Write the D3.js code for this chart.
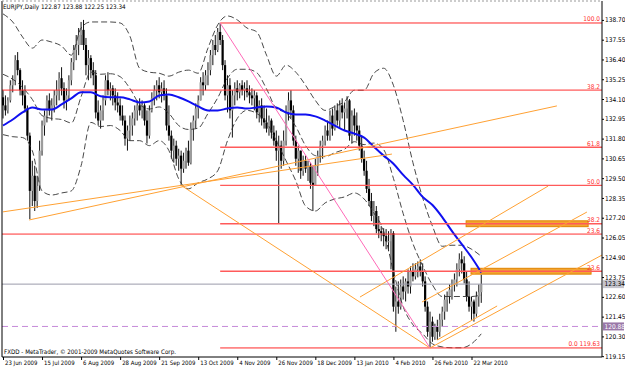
<!DOCTYPE html>
<html>
<head>
<meta charset="utf-8">
<script src="https://cdn.jsdelivr.net/npm/d3@7"></script>
<style>
body { margin: 0; background: #fff; }
text { font-family: "Liberation Sans Narrow", "Arial Narrow", "DejaVu Sans Condensed", "Liberation Sans", sans-serif; }
</style>
</head>
<body>
<div id="chart"></div>
<script>

// EURJPY daily bars, index 0 = 23 Jun 2009 (open = previous close)
var firstOpen = 134.20;
var highs = [
  134.61,134.31,134.20,135.19,135.48,136.65,136.83,135.89,135.19,134.90,
  133.73,132.15,130.51,130.22,129.64,131.68,132.85,133.44,134.31,134.43,
  134.14,134.61,135.19,135.66,135.95,135.07,134.72,135.48,136.48,137.24,
  137.82,138.23,138.58,138.70,137.65,136.95,136.65,136.24,135.78,134.02,
  133.73,134.31,135.48,135.66,135.07,134.90,134.72,134.49,134.14,133.73,
  133.14,132.56,133.14,133.32,133.73,134.02,134.14,134.02,133.85,133.44,
  133.73,134.49,134.90,135.19,135.37,135.07,135.19,134.72,133.73,132.27,
  131.80,131.68,131.21,131.10,130.98,131.27,131.68,132.74,133.14,133.85,
  134.31,135.37,135.66,135.78,136.24,136.95,137.53,137.82,138.23,138.52,
  137.82,136.36,135.48,135.31,134.61,135.07,135.19,135.02,135.19,135.07,
  135.19,134.90,134.72,134.61,134.49,134.02,134.14,133.73,133.55,133.14,
  132.97,132.56,132.27,131.97,131.68,132.27,133.73,134.49,134.61,133.73,
  131.97,131.39,131.10,130.81,130.81,130.51,130.40,130.22,130.63,131.10,
  131.68,131.97,132.56,132.85,133.44,133.55,133.73,133.85,134.02,134.14,
  133.90,134.26,134.10,133.44,133.55,133.32,132.56,131.97,131.10,130.51,
  129.46,128.64,128.17,127.88,127.30,126.71,126.59,126.54,126.42,126.54,
  126.42,123.20,123.50,123.61,123.79,123.67,124.20,124.37,124.55,124.55,
  124.66,124.78,124.55,123.79,122.33,121.74,121.45,121.04,121.27,121.62,
  122.03,122.73,122.91,123.32,123.61,123.96,124.55,125.13,125.25,124.96,
  124.08,123.50,122.62,122.44,122.91,123.32,123.88
];
var lows = [
  132.97,133.14,133.26,133.90,134.49,134.90,135.48,134.31,133.73,133.32,
  131.68,127.12,127.88,127.59,127.77,128.76,130.81,131.97,132.74,133.14,
  132.85,133.32,133.73,134.02,134.31,133.55,133.44,134.02,134.90,135.78,
  136.36,136.65,137.24,136.95,135.48,135.19,135.31,134.90,132.97,132.56,
  132.38,132.85,133.73,134.31,134.02,133.73,133.44,133.32,132.85,132.56,
  131.39,131.10,131.68,131.97,132.56,132.85,133.14,132.97,132.56,131.51,
  131.80,133.32,133.73,134.02,134.14,133.90,134.02,132.27,131.68,130.63,
  130.40,130.22,129.93,129.11,129.81,130.05,130.22,130.30,131.68,132.38,
  132.97,134.02,134.31,134.61,134.90,135.48,136.07,136.65,136.83,137.24,
  135.78,134.02,133.32,132.97,131.86,133.73,134.02,134.14,134.31,134.02,
  134.20,133.85,133.73,133.44,132.97,132.74,132.56,132.38,132.15,131.97,
  131.80,131.39,130.51,126.89,130.05,130.22,131.39,132.85,132.97,131.39,
  130.22,129.81,129.46,129.64,129.81,129.34,128.88,127.59,129.05,129.64,
  130.40,130.63,131.39,131.68,131.68,131.97,132.27,132.56,132.38,132.97,
  132.27,132.97,131.68,131.51,131.97,131.68,131.10,130.40,129.64,128.64,
  127.88,127.00,126.71,126.30,126.01,125.83,125.54,125.37,125.25,124.20,
  121.74,120.57,121.62,121.86,122.44,122.33,122.79,122.79,123.50,123.61,
  123.73,123.79,123.20,121.74,120.28,119.63,119.99,120.10,120.10,120.28,
  120.86,121.27,121.74,122.21,122.44,122.91,123.20,123.79,123.96,123.38,
  122.33,121.74,121.27,121.16,121.45,122.03,122.25
];
var closes = [
  133.73,133.44,134.02,134.90,135.19,136.36,135.78,134.61,134.31,133.55,
  131.97,128.76,129.64,128.17,129.05,131.10,132.56,133.14,134.02,133.44,
  133.73,134.31,134.61,135.31,134.72,134.02,134.31,135.19,136.24,136.95,
  137.24,137.82,138.12,137.24,136.07,136.48,135.78,135.48,133.32,132.85,
  133.44,134.02,135.19,134.61,134.72,134.31,133.90,133.73,133.14,132.85,
  131.80,132.27,132.56,132.97,133.44,133.73,133.44,133.73,132.85,131.97,
  133.44,134.14,134.61,134.90,134.49,134.72,134.31,132.56,131.97,131.10,
  131.39,130.63,130.81,130.05,130.51,131.10,130.40,132.38,132.85,133.55,
  134.02,135.07,134.90,135.48,135.78,136.65,137.24,136.95,138.00,137.53,
  136.07,134.31,134.90,133.44,134.31,134.72,134.49,134.90,134.61,134.72,
  134.49,134.31,134.14,134.31,133.32,133.73,132.97,132.74,132.38,132.85,
  132.15,131.68,131.10,131.39,130.51,131.68,133.32,134.02,133.44,131.68,
  130.63,131.10,129.93,130.51,130.05,130.22,129.23,129.05,130.22,130.81,
  131.39,131.68,132.27,131.97,133.14,132.38,133.44,132.85,133.73,133.32,
  133.55,134.02,131.97,133.14,132.56,132.27,131.39,130.63,129.93,128.88,
  128.17,127.30,127.59,126.54,126.42,126.30,126.13,125.83,125.83,126.30,
  122.03,122.33,122.03,123.20,122.91,123.50,123.20,124.08,123.79,124.20,
  124.37,124.08,123.50,122.03,120.57,121.16,120.28,120.86,120.57,121.27,
  121.74,122.44,122.62,123.03,123.32,123.61,124.20,124.78,124.55,123.61,
  122.62,122.03,122.33,121.62,122.62,122.87,123.34
];

// indicator readings, one every 4 bars
var bandStep = 4;
var bbUpper = [
  139.05,138.58,137.71,137.06,137.53,137.41,137.18,136.65,138.23,138.58,
  138.58,138.58,138.52,137.76,135.89,135.66,135.60,135.43,135.66,135.78,
  135.60,137.06,138.41,138.93,138.70,138.23,138.00,136.65,135.43,136.07,
  135.66,134.90,134.02,133.44,133.67,133.96,134.61,134.61,135.60,135.89,
  134.90,132.85,130.40,128.35,126.71,125.54,125.60,125.60,125.37,124.96
];
var bbMiddle = [
  135.54,135.25,134.78,134.08,133.14,132.97,132.91,132.71,134.23,135.66,
  135.54,135.57,135.40,134.72,133.79,133.52,133.64,133.26,132.56,132.33,
  132.41,133.26,134.17,135.31,135.83,135.83,135.63,134.69,133.55,133.29,
  132.50,131.39,130.81,130.75,130.98,131.19,131.62,131.45,131.54,131.16,
  129.49,127.44,125.69,124.40,123.29,122.62,122.62,122.62,122.62,122.71
];
var bbLower = [
  132.03,131.91,131.86,131.10,128.76,128.52,128.64,128.76,130.22,132.74,
  132.50,132.56,132.27,131.68,131.68,131.39,131.68,131.10,129.46,128.88,
  129.23,129.46,129.93,131.68,132.97,133.44,133.26,132.74,131.68,130.51,
  129.34,127.88,127.59,128.06,128.29,128.41,128.64,128.29,127.47,126.42,
  124.08,122.03,120.98,120.45,119.87,119.69,119.64,119.64,119.87,120.45
];
var maBlue = [
  132.56,132.91,133.32,133.61,133.49,133.49,133.79,134.14,134.49,134.49,
  134.26,134.20,134.20,134.08,133.90,133.96,134.31,134.37,134.20,133.96,
  133.67,133.44,133.44,133.55,133.61,133.55,133.61,133.67,133.61,133.32,
  133.20,133.20,133.09,132.85,132.56,132.27,132.09,131.86,131.33,130.81,
  130.34,129.69,129.11,128.41,127.94,127.24,126.42,125.66,124.90,124.02
];

// axis labels
var priceTicks = [138.70,137.55,136.40,135.25,134.10,132.95,131.80,130.65,129.50,
                  128.35,127.20,126.05,124.90,123.75,122.60,121.45,120.30,119.15];
var dateTicks = [0,16,32,48,64,80,96,112,128,144,160,176,192];
var dateLabels = ["23 Jun 2009","15 Jul 2009","6 Aug 2009","28 Aug 2009","21 Sep 2009",
                  "13 Oct 2009","4 Nov 2009","26 Nov 2009","18 Dec 2009","13 Jan 2010",
                  "4 Feb 2010","26 Feb 2010","22 Mar 2010"];

// fibonacci retracement, Oct high (bar 89) to Feb low (bar 175)
var fibStart = 89;
var fibNames = ["100.0","61.8","50.0","38.2","23.6","0.0"];
var fibPrices = [138.52,131.30,129.08,126.85,124.09,119.63];
// second retracement, only two levels on screen
var fib2Names = ["38.2","23.6"];
var fib2Prices = [134.62,126.25];

// drawn objects: [bar, price] -> [bar, price]
var orangeLines = [
  [[0, 127.54], [159.4, 130.90]],
  [[10.7, 127.07], [227.0, 133.70]],
  [[73, 129.08], [175, 119.63]],
  [[146.3, 122.59], [223.4, 129.04]],
  [[171.7, 122.30], [239.3, 127.53]],
  [[175, 119.63], [245.5, 125.03]],
  [[177.9, 120.09], [202.5, 122.07]]
];
var pinkLine = [[89, 138.52], [175, 119.63]];
var zones = [
  { from: 189.8, to: 239.8, top: 127.02, bottom: 126.68 },
  { from: 191.8, to: 241.0, top: 124.26, bottom: 123.92 }
];
var lastPrice = 123.34;
var alertPrice = 120.88;

var W = 625, H = 368;
var plotL = 2, plotR = 602, plotT = 1, plotB = 357;

var svg = d3.select("#chart")
  .append("svg")
    .attr("width", W)
    .attr("height", H)
    .style("background", "#fff");

var x = d3.scaleLinear().domain([0, 192]).range([3, 471.5]);
var y = d3.scaleLinear().domain([119.15, 138.70]).range([356.2, 19.9]);

svg.append("clipPath").attr("id", "plot")
  .append("rect")
    .attr("x", plotL).attr("y", plotT)
    .attr("width", plotR - plotL).attr("height", plotB - plotT);

var g = svg.append("g").attr("clip-path", "url(#plot)");

// orange zones
g.selectAll(".zone")
  .data(zones)
  .enter().append("rect")
    .attr("x", function(d) { return x(d.from); })
    .attr("width", function(d) { return x(d.to) - x(d.from); })
    .attr("y", function(d) { return y(d.top); })
    .attr("height", function(d) { return y(d.bottom) - y(d.top); })
    .style("fill", "#f2a531")
    .style("stroke", "#e08400")
    .style("stroke-width", 1);

// candles
var bars = closes.map(function(c, i) {
  return { i: i, o: i ? closes[i - 1] : firstOpen, h: highs[i], l: lows[i], c: c };
});

g.selectAll(".wick")
  .data(bars)
  .enter().append("line")
    .attr("x1", function(d) { return x(d.i); })
    .attr("x2", function(d) { return x(d.i); })
    .attr("y1", function(d) { return y(d.h); })
    .attr("y2", function(d) { return y(d.l); })
    .style("stroke", "#111")
    .style("stroke-width", 1);

g.selectAll(".body")
  .data(bars)
  .enter().append("rect")
    .attr("x", function(d) { return x(d.i) - 1.1; })
    .attr("width", 2.2)
    .attr("y", function(d) { return y(Math.max(d.o, d.c)); })
    .attr("height", function(d) { return Math.max(1, Math.abs(y(d.o) - y(d.c))); })
    .style("fill", function(d) { return d.c >= d.o ? "#9c9c9c" : "#000"; });

// bollinger bands
function bandLine(vals) {
  return d3.line()
    .x(function(d, i) { return x(i * bandStep); })
    .y(function(d) { return y(d); })
    .curve(d3.curveMonotoneX)(vals);
}
[bbUpper, bbMiddle, bbLower].forEach(function(vals) {
  g.append("path")
    .attr("d", bandLine(vals))
    .attr("fill", "none")
    .attr("stroke", "#333")
    .attr("stroke-width", 0.9)
    .attr("stroke-dasharray", "6,3");
});

// moving average
g.append("path")
  .attr("d", bandLine(maBlue))
  .attr("fill", "none")
  .attr("stroke", "#1010f0")
  .attr("stroke-width", 2);

// horizontal levels
g.append("line")
  .attr("x1", plotL).attr("x2", plotR)
  .attr("y1", y(lastPrice)).attr("y2", y(lastPrice))
  .style("stroke", "#9a9aaa").style("stroke-width", 1);

g.append("line")
  .attr("x1", plotL).attr("x2", plotR)
  .attr("y1", y(alertPrice)).attr("y2", y(alertPrice))
  .style("stroke", "#c58ad8").style("stroke-width", 1)
  .style("stroke-dasharray", "6,4");

g.selectAll(".fib2")
  .data(fib2Prices)
  .enter().append("line")
    .attr("x1", plotL).attr("x2", plotR)
    .attr("y1", function(d) { return y(d); })
    .attr("y2", function(d) { return y(d); })
    .style("stroke", "#ff3030").style("stroke-width", 1);

g.selectAll(".fib")
  .data(fibPrices)
  .enter().append("line")
    .attr("x1", x(fibStart)).attr("x2", plotR)
    .attr("y1", function(d) { return y(d); })
    .attr("y2", function(d) { return y(d); })
    .style("stroke", function(d, i) { return (i === 0 || i === fibPrices.length - 1) ? "#ff2a2a" : "#ff5a5a"; })
    .style("stroke-width", function(d, i) { return (i === 0 || i === fibPrices.length - 1) ? 1 : 1.4; });

// trend lines
g.selectAll(".trend")
  .data(orangeLines)
  .enter().append("line")
    .attr("x1", function(d) { return x(d[0][0]); })
    .attr("y1", function(d) { return y(d[0][1]); })
    .attr("x2", function(d) { return x(d[1][0]); })
    .attr("y2", function(d) { return y(d[1][1]); })
    .style("stroke", "#ffa133").style("stroke-width", 1);

g.append("line")
  .attr("x1", x(pinkLine[0][0])).attr("y1", y(pinkLine[0][1]))
  .attr("x2", x(pinkLine[1][0])).attr("y2", y(pinkLine[1][1]))
  .style("stroke", "#ff6ab8").style("stroke-width", 1);

// fib labels
svg.selectAll(".fibLabel")
  .data(fibPrices)
  .enter().append("text")
    .attr("x", 600)
    .attr("y", function(d) { return y(d) - 1.5; })
    .attr("text-anchor", "end")
    .style("font-size", "6.5px")
    .style("fill", "#ff3030")
    .text(function(d, i) { return i === fibPrices.length - 1 ? "0.0     " + d3.format(".2f")(d) : fibNames[i]; });

svg.selectAll(".fib2Label")
  .data(fib2Prices)
  .enter().append("text")
    .attr("x", 600)
    .attr("y", function(d) { return y(d) - 1.5; })
    .attr("text-anchor", "end")
    .style("font-size", "6.5px")
    .style("fill", "#ff3030")
    .text(function(d, i) { return fib2Names[i]; });

// frame
svg.append("path")
  .attr("d", "M" + plotL + "," + plotT + "V" + plotB + "H" + plotR + "V" + plotT)
  .attr("fill", "none")
  .attr("stroke", "#000")
  .attr("stroke-width", 1);
svg.append("line")
  .attr("x1", plotL).attr("x2", plotR).attr("y1", plotT).attr("y2", plotT)
  .style("stroke", "#999").style("stroke-dasharray", "2,2");

// price axis
var yAxis = svg.append("g")
  .attr("transform", "translate(" + plotR + ",0)")
  .call(d3.axisRight(y).tickValues(priceTicks).tickSize(2).tickPadding(1).tickFormat(d3.format(".2f")));
yAxis.select(".domain").remove();
yAxis.selectAll("text").attr("font-family", null).style("font-size", "6.5px").style("fill", "#000");

// date axis
var xAxis = svg.append("g")
  .attr("transform", "translate(0," + plotB + ")")
  .call(d3.axisBottom(x).tickValues(dateTicks).tickSize(3).tickPadding(1)
    .tickFormat(function(d, i) { return dateLabels[i]; }));
xAxis.select(".domain").remove();
xAxis.selectAll("text")
  .attr("text-anchor", "start")
  .attr("dx", 1.5)
  .attr("font-family", null)
  .style("font-size", "6px")
  .style("fill", "#000");

// price boxes on the axis
function priceBox(p, fill, color) {
  var b = svg.append("g").attr("transform", "translate(" + (plotR + 1) + "," + y(p) + ")");
  b.append("rect").attr("x", 0).attr("y", -4).attr("width", 21).attr("height", 8).style("fill", fill);
  b.append("text").attr("x", 1.5).attr("y", 2.3).style("font-size", "6.5px").style("fill", color)
    .text(d3.format(".2f")(p));
}
priceBox(lastPrice, "#c4c4cc", "#000");
priceBox(alertPrice, "#9a78a8", "#fff");

// header and footer
svg.append("text")
  .attr("x", 3).attr("y", 8.5)
  .style("font-size", "6.3px")
  .text("EURJPY,Daily 122.87 123.88 122.25 123.34");

svg.append("text")
  .attr("x", 4).attr("y", 354)
  .style("font-size", "6.2px")
  .text("FXDD - MetaTrader, \u00a9 2001-2009 MetaQuotes Software Corp.");

</script>
</body>
</html>
